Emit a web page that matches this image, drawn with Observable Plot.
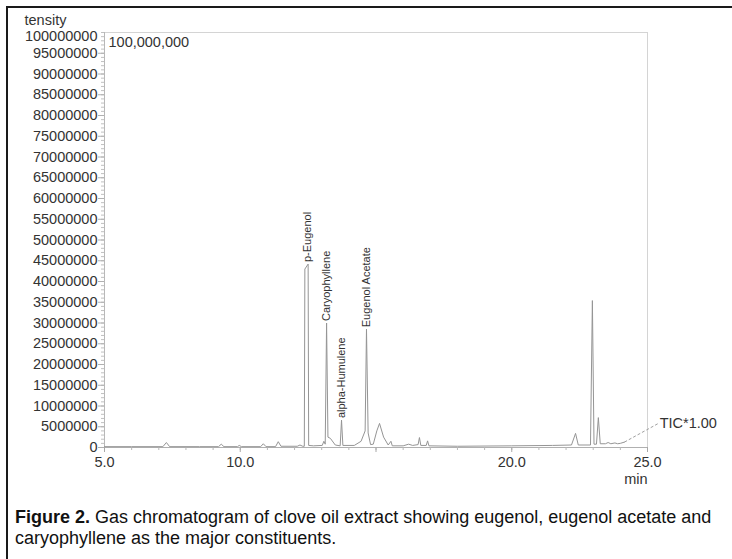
<!DOCTYPE html>
<html><head><meta charset="utf-8">
<script src="https://cdn.jsdelivr.net/npm/d3@7"></script>
<script src="https://cdn.jsdelivr.net/npm/@observablehq/plot@0.6"></script>
<style>
body{margin:0;background:#fff;}
#wrap{position:relative;width:732px;height:559px;overflow:hidden;background:#fff;font-family:"Liberation Sans",Arial,sans-serif;}
#btop{position:absolute;left:6px;top:6px;width:726px;height:2px;background:#1a1a1a;}
#bleft{position:absolute;left:6px;top:6px;width:2px;height:553px;background:#1a1a1a;}
#chart{position:absolute;left:0;top:0;}
#cap{position:absolute;left:15px;top:506px;width:716px;font-size:18px;line-height:22px;color:#111;white-space:nowrap;}
#cap div{height:21px;}
</style></head>
<body>
<div id="wrap"><div id="chart"></div><div id="btop"></div><div id="bleft"></div>
<div id="cap"><div><b>Figure 2.</b><span> Gas chromatogram of clove oil extract showing eugenol, eugenol acetate and</span></div><div><span>caryophyllene as the major constituents.</span></div></div></div>
<script>
// Chromatogram trace: retention time (min) and intensity
const rt = [5.0, 6.0, 7.15, 7.28, 7.4, 8.5, 9.2, 9.3, 9.4, 9.9, 9.96, 10.05, 10.75, 10.85, 10.95, 11.3, 11.4, 11.5, 12.1, 12.2, 12.3,
  12.36, 12.38, 12.50, 12.52, 12.7, 13.02, 13.08, 13.13, 13.18, 13.23, 13.32, 13.5, 13.68, 13.73, 13.78, 14.2, 14.45, 14.6, 14.65, 14.71, 14.8,
  14.9, 15.03, 15.13, 15.28, 15.45, 15.55, 15.6, 16.0, 16.2, 16.35, 16.55, 16.6, 16.65, 16.85, 16.9, 16.95, 18.0, 20.0, 21.5, 22.2, 22.35, 22.45,
  22.9, 22.97, 23.03, 23.12, 23.19, 23.26, 23.45, 23.55, 23.65, 23.8, 23.9, 24.0, 24.15];
const intensity = [0.2e6, 0.2e6, 0.2e6, 1.2e6, 0.2e6, 0.2e6, 0.2e6, 0.8e6, 0.2e6, 0.2e6, 0.5e6, 0.2e6, 0.2e6, 0.9e6, 0.2e6, 0.2e6, 1.4e6, 0.3e6, 0.3e6, 0.6e6, 0.3e6,
  0.3e6, 43.0e6, 44.2e6, 0.5e6, 0.4e6, 0.5e6, 1.5e6, 0.8e6, 30.0e6, 2.5e6, 2.2e6, 0.6e6, 0.4e6, 6.6e6, 0.5e6, 0.5e6, 1.5e6, 4.0e6, 28.5e6, 3.5e6, 0.7e6,
  0.8e6, 4.0e6, 5.8e6, 2.5e6, 0.6e6, 1.5e6, 0.4e6, 0.4e6, 0.8e6, 0.5e6, 0.7e6, 2.4e6, 0.5e6, 0.5e6, 1.6e6, 0.4e6, 0.3e6, 0.4e6, 0.5e6, 0.6e6, 3.4e6, 0.6e6,
  0.6e6, 35.4e6, 0.8e6, 0.8e6, 7.2e6, 0.9e6, 0.9e6, 1.2e6, 0.9e6, 1.1e6, 0.9e6, 1.0e6, 1.3e6];

// Labelled peaks
const peakNames = ["p-Eugenol", "Caryophyllene", "alpha-Humulene", "Eugenol Acetate"];
const peakRT = [12.48, 13.18, 13.73, 14.65];
const peakHeight = [44.2e6, 30.0e6, 6.6e6, 28.5e6];

// Axis ticks
const yTickValues = [0, 5e6, 10e6, 15e6, 20e6, 25e6, 30e6, 35e6, 40e6, 45e6, 50e6, 55e6, 60e6, 65e6, 70e6, 75e6, 80e6, 85e6, 90e6, 95e6];
const yTopValue = [100e6];
const xTickLabels = [5, 10, 20, 25];
const xMajorTicks = [5, 10, 15, 20, 25];

// Annotation text
const ticLabel = [{text: "TIC*1.00", t: 25.45, v: 5.8e6}];

const trace = rt.map((t, i) => ({t, v: intensity[i]}));
const peaks = peakNames.map((name, i) => ({name, t: peakRT[i], v: peakHeight[i]}));
const ticLeader = [{t1: rt[rt.length - 1], v1: intensity[intensity.length - 1], t2: ticLabel[0].t - 0.05, v2: ticLabel[0].v}];
const yMinor = d3.range(0, 100e6 + 1, 1e6);
const xMinor = d3.range(5, 25.01, 1);

const chart = Plot.plot({
  width: 732, height: 490,
  marginLeft: 104, marginRight: 85, marginTop: 32, marginBottom: 43,
  style: {fontFamily: "'Liberation Sans', Arial, sans-serif", fontSize: "14.5px", color: "#333", background: "transparent", overflow: "visible"},
  x: {domain: [5, 25]},
  y: {domain: [0, 100e6]},
  marks: [
    Plot.frame({stroke: "#d4d4d4"}),
    Plot.ruleX([5], {stroke: "#b8b8b8"}),
    Plot.ruleY([0], {stroke: "#b0b0b0"}),
    Plot.axisY({ticks: yMinor, tickSize: 3, fill: "none", stroke: "#c0c0c0", label: null}),
    Plot.axisY({ticks: yTickValues, tickSize: 6, tickPadding: 1, tickFormat: d => String(d), stroke: "#b0b0b0", fill: "#333", label: null}),
    Plot.text(yTopValue, {y: d => d, frameAnchor: "left", lineAnchor: "middle", text: d => String(d), textAnchor: "end", dx: -7, dy: 4, fill: "#333"}),
    Plot.axisX({ticks: xMinor, tickSize: 3, fill: "none", stroke: "#b8b8b8", label: null}),
    Plot.axisX({ticks: xMajorTicks, tickSize: 5, fill: "none", stroke: "#a8a8a8", label: null}),
    Plot.axisX({ticks: xTickLabels, tickSize: 0, tickPadding: 9, tickFormat: d => d.toFixed(1), fill: "#333", label: null}),
    Plot.line(trace, {x: "t", y: "v", stroke: "#959595", strokeWidth: 1}),
    Plot.text(peaks, {x: "t", y: "v", text: "name", rotate: -90, textAnchor: "start", dy: -2, fontSize: 11, fill: "#333"}),
    Plot.link(ticLeader, {x1: "t1", y1: "v1", x2: "t2", y2: "v2", stroke: "#a0a0a0", strokeDasharray: "3,2"}),
    Plot.text(ticLabel, {x: "t", y: "v", text: "text", textAnchor: "start", fill: "#333"}),
    Plot.text(["100,000,000"], {text: d => d, frameAnchor: "top-left", lineAnchor: "middle", dx: 4, dy: 10, textAnchor: "start", fill: "#333"}),
    Plot.text(["tensity"], {text: d => d, frameAnchor: "top-left", lineAnchor: "middle", dx: -80, dy: -12, textAnchor: "start", fill: "#333"}),
    Plot.text(["min"], {text: d => d, frameAnchor: "bottom-right", lineAnchor: "middle", dy: 32, textAnchor: "end", fill: "#333"})
  ]
});
document.getElementById("chart").appendChild(chart);
</script>
</body></html>
